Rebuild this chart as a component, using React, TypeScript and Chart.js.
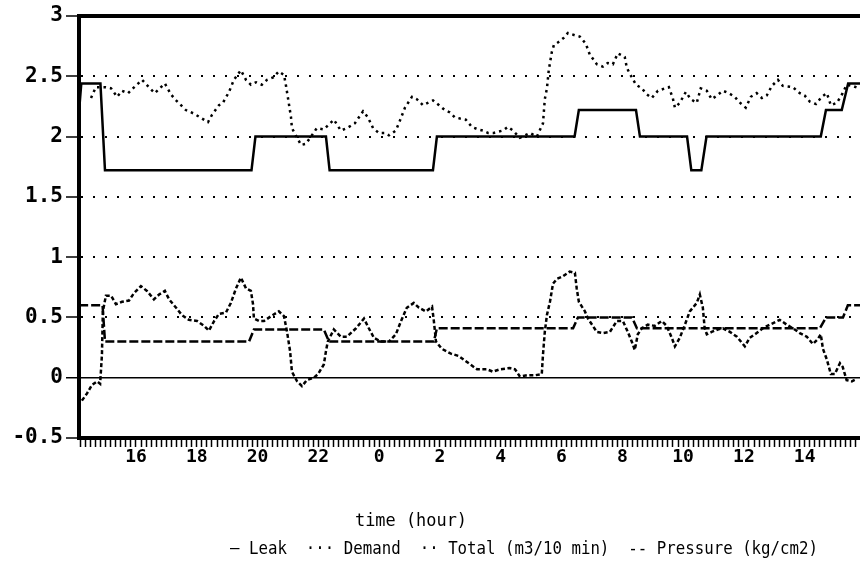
import React, { useEffect, useRef } from 'react';
import { Chart, registerables } from 'chart.js';

Chart.register(...registerables);

// ---- data (hours counted from midnight of day 1; 24 = 0h of next day) ----
const leakHours = [14.13, 14.2, 14.83, 14.98, 19.8, 19.93, 22.25, 22.37, 25.77, 25.9, 30.43, 30.57, 32.45, 32.58, 34.13, 34.27, 34.6, 34.77, 38.53, 38.7, 39.22, 39.43, 39.82];
const leakValues = [2.22, 2.44, 2.44, 1.72, 1.72, 2.0, 2.0, 1.72, 1.72, 2.0, 2.0, 2.22, 2.22, 2.0, 2.0, 1.72, 1.72, 2.0, 2.0, 2.22, 2.22, 2.44, 2.44];

const pressureHours = [14.13, 14.9, 14.98, 19.72, 19.88, 22.18, 22.35, 25.8, 25.9, 30.38, 30.54, 32.32, 32.48, 38.5, 38.7, 39.26, 39.42, 39.82];
const pressureValues = [0.6, 0.6, 0.3, 0.3, 0.4, 0.4, 0.3, 0.3, 0.41, 0.41, 0.5, 0.5, 0.41, 0.41, 0.5, 0.5, 0.6, 0.6];

const totalHours = [14.52, 14.68, 15.01, 15.18, 15.38, 15.54, 15.74, 15.9, 16.2, 16.46, 16.62, 16.95, 17.15, 17.32, 17.64, 17.91, 18.17, 18.37, 18.5, 18.73, 18.86, 19.06, 19.22, 19.45, 19.62, 19.78, 19.95, 20.14, 20.31, 20.51, 20.7, 20.87, 20.93, 21.0, 21.1, 21.13, 21.43, 21.59, 21.95, 22.18, 22.51, 22.74, 22.94, 23.2, 23.47, 23.63, 23.8, 23.99, 24.19, 24.32, 24.55, 24.68, 24.85, 25.08, 25.24, 25.44, 25.6, 25.77, 25.97, 26.16, 26.33, 26.49, 26.66, 26.85, 27.05, 27.25, 27.41, 27.58, 27.77, 28.07, 28.24, 28.4, 28.63, 28.96, 29.19, 29.39, 29.45, 29.52, 29.58, 29.68, 29.75, 29.88, 30.08, 30.21, 30.44, 30.6, 30.8, 30.93, 31.16, 31.36, 31.52, 31.69, 31.85, 32.08, 32.15, 32.25, 32.45, 32.64, 32.81, 32.97, 33.17, 33.53, 33.66, 33.73, 33.89, 34.09, 34.25, 34.45, 34.58, 34.78, 34.94, 35.11, 35.31, 35.5, 35.7, 35.83, 36.06, 36.23, 36.42, 36.59, 36.75, 36.92, 37.12, 37.28, 37.61, 37.84, 38.0, 38.17, 38.37, 38.56, 38.73, 38.86, 39.06, 39.25, 39.38, 39.58, 39.78];
const totalValues = [2.32, 2.41, 2.41, 2.4, 2.33, 2.38, 2.36, 2.4, 2.47, 2.4, 2.36, 2.44, 2.35, 2.3, 2.22, 2.19, 2.15, 2.12, 2.18, 2.26, 2.28, 2.37, 2.47, 2.55, 2.47, 2.43, 2.45, 2.43, 2.47, 2.49, 2.54, 2.51, 2.43, 2.32, 2.16, 2.07, 1.93, 1.94, 2.07, 2.06, 2.14, 2.05, 2.07, 2.11, 2.21, 2.16, 2.07, 2.03, 2.03, 2.01, 2.05, 2.13, 2.24, 2.33, 2.31, 2.26, 2.28, 2.3, 2.26, 2.22, 2.2, 2.16, 2.15, 2.14, 2.08, 2.06, 2.05, 2.03, 2.03, 2.05, 2.08, 2.05, 1.99, 2.03, 2.0, 2.11, 2.31, 2.4, 2.55, 2.7, 2.76, 2.78, 2.82, 2.86, 2.84, 2.83, 2.77, 2.68, 2.6, 2.58, 2.61, 2.6, 2.69, 2.66, 2.57, 2.52, 2.43, 2.4, 2.35, 2.32, 2.38, 2.41, 2.32, 2.24, 2.28, 2.37, 2.31, 2.28, 2.4, 2.38, 2.31, 2.34, 2.38, 2.36, 2.33, 2.29, 2.24, 2.33, 2.36, 2.32, 2.34, 2.42, 2.47, 2.42, 2.41, 2.36, 2.34, 2.29, 2.27, 2.33, 2.36, 2.26, 2.28, 2.36, 2.43, 2.42, 2.4];

const demandHours = [14.22, 14.39, 14.55, 14.72, 14.82, 14.88, 14.91, 15.01, 15.18, 15.34, 15.54, 15.77, 15.93, 16.16, 16.36, 16.59, 16.76, 16.95, 17.09, 17.32, 17.51, 17.74, 18.01, 18.24, 18.4, 18.57, 18.73, 18.96, 19.12, 19.29, 19.45, 19.62, 19.78, 19.85, 19.88, 20.05, 20.21, 20.44, 20.7, 20.87, 20.97, 21.07, 21.13, 21.3, 21.46, 21.62, 21.85, 21.99, 22.18, 22.25, 22.31, 22.51, 22.74, 22.94, 23.24, 23.5, 23.66, 23.83, 24.06, 24.32, 24.55, 24.72, 24.91, 25.14, 25.31, 25.54, 25.74, 25.8, 25.87, 26.06, 26.36, 26.62, 26.89, 27.22, 27.55, 27.74, 27.97, 28.3, 28.47, 28.63, 28.86, 29.12, 29.35, 29.39, 29.45, 29.52, 29.62, 29.72, 29.85, 30.04, 30.27, 30.44, 30.5, 30.57, 30.77, 30.87, 31.03, 31.16, 31.36, 31.59, 31.82, 32.02, 32.18, 32.31, 32.41, 32.51, 32.64, 32.84, 33.07, 33.3, 33.46, 33.63, 33.73, 33.89, 34.06, 34.22, 34.45, 34.55, 34.65, 34.71, 34.78, 34.94, 35.14, 35.31, 35.54, 35.77, 36.03, 36.19, 36.42, 36.62, 36.85, 37.18, 37.41, 37.61, 37.84, 38.07, 38.27, 38.43, 38.53, 38.6, 38.73, 38.86, 38.99, 39.16, 39.25, 39.38, 39.55, 39.72];
const demandValues = [-0.19, -0.13, -0.06, -0.03, -0.05, 0.19, 0.55, 0.68, 0.68, 0.61, 0.63, 0.64, 0.7, 0.76, 0.72, 0.65, 0.69, 0.72, 0.65, 0.58, 0.52, 0.48, 0.47, 0.43, 0.39, 0.47, 0.53, 0.54, 0.62, 0.74, 0.83, 0.74, 0.72, 0.61, 0.49, 0.47, 0.47, 0.51, 0.55, 0.51, 0.38, 0.22, 0.05, -0.03, -0.07, -0.02, 0.0, 0.03, 0.11, 0.22, 0.3, 0.4, 0.34, 0.34, 0.41, 0.49, 0.41, 0.33, 0.3, 0.3, 0.36, 0.47, 0.58, 0.62, 0.58, 0.55, 0.59, 0.47, 0.3, 0.24, 0.2, 0.18, 0.13, 0.07, 0.07, 0.05, 0.07, 0.08, 0.07, 0.01, 0.02, 0.02, 0.03, 0.19, 0.38, 0.52, 0.63, 0.78, 0.82, 0.84, 0.88, 0.87, 0.74, 0.63, 0.55, 0.49, 0.43, 0.38, 0.37, 0.38, 0.47, 0.47, 0.38, 0.3, 0.23, 0.36, 0.41, 0.44, 0.43, 0.47, 0.43, 0.33, 0.26, 0.33, 0.44, 0.55, 0.62, 0.69, 0.58, 0.41, 0.36, 0.38, 0.4, 0.41, 0.38, 0.34, 0.26, 0.33, 0.37, 0.41, 0.44, 0.48, 0.44, 0.41, 0.37, 0.34, 0.28, 0.32, 0.36, 0.24, 0.15, 0.03, 0.03, 0.12, 0.09, -0.02, -0.03, -0.01];

// ---- axes / text ----
const X_MIN = 14.125;
const X_MAX = 39.82;
const majorTickHours = [16, 18, 20, 22, 24, 26, 28, 30, 32, 34, 36, 38];
const majorTickLabels = ['16', '18', '20', '22', '0', '2', '4', '6', '8', '10', '12', '14'];
const yTickValues = [-0.5, 0, 0.5, 1, 1.5, 2, 2.5, 3];
const yTickLabels = ['-0.5', '0', '0.5', '1', '1.5', '2', '2.5', '3'];
const seriesNames = ['Leak', 'Demand', 'Total (m3/10 min)', 'Pressure (kg/cm2)'];
const legendSymbols = ['—', '···', '··', '--'];
const xTitle = 'time (hour)';

const MONO = '"DejaVu Sans Mono", "Liberation Mono", monospace';

const pts = (xs: number[], ys: number[]) => xs.map((x, i) => ({ x, y: ys[i] }));

const textPlugin = {
  id: 'textPlugin',
  afterDraw(chart: any) {
    const { ctx, chartArea } = chart;
    ctx.save();
    ctx.fillStyle = '#000';
    ctx.font = `18px ${MONO}`;
    ctx.textBaseline = 'middle';
    ctx.textAlign = 'center';
    ctx.fillText(xTitle, chartArea.left + 332, 521, 112);
    const legend = seriesNames.map((n, i) => `${legendSymbols[i]} ${n}`).join('  ');
    ctx.textAlign = 'left';
    ctx.fillText(legend, chartArea.left + 151, 549, 588);
    ctx.restore();
  },
};

export default function App() {
  const ref = useRef<HTMLCanvasElement>(null);

  useEffect(() => {
    if (!ref.current) return;
    const black = '#000';
    const chart = new Chart(ref.current, {
      type: 'line',
      data: {
        datasets: [
          { label: seriesNames[0], data: pts(leakHours, leakValues), borderColor: black, borderWidth: 2.5, pointRadius: 0, fill: false, tension: 0 },
          { label: seriesNames[1], data: pts(demandHours, demandValues), borderColor: black, borderWidth: 2.5, borderDash: [4, 2.5], pointRadius: 0, fill: false, tension: 0 },
          { label: seriesNames[2], data: pts(totalHours, totalValues), borderColor: black, borderWidth: 2.5, borderDash: [2.5, 4], pointRadius: 0, fill: false, tension: 0 },
          { label: seriesNames[3], data: pts(pressureHours, pressureValues), borderColor: black, borderWidth: 2.5, borderDash: [9, 3], pointRadius: 0, fill: false, tension: 0 },
        ],
      } as any,
      options: {
        animation: false,
        responsive: false,
        devicePixelRatio: 1,
        layout: { padding: { top: 16, right: 0, left: 0, bottom: 0 } },
        plugins: { legend: { display: false }, tooltip: { enabled: false }, title: { display: false } },
        scales: {
          x: {
            type: 'linear',
            min: X_MIN,
            max: X_MAX,
            afterBuildTicks: (scale: any) => {
              const ticks: any[] = [];
              for (let k = Math.ceil(X_MIN * 6); k <= Math.floor(X_MAX * 6); k++) ticks.push({ value: k / 6 });
              scale.ticks = ticks;
            },
            afterFit: (scale: any) => { scale.height = 126; },
            ticks: {
              autoSkip: false,
              maxRotation: 0,
              minRotation: 0,
              padding: 0,
              color: black,
              font: { family: MONO, size: 18, weight: 'bold' },
              callback: (v: any) => {
                const i = majorTickHours.findIndex((h) => Math.abs(h - Number(v)) < 1e-6);
                return i >= 0 ? majorTickLabels[i] : '';
              },
            },
            grid: { display: true, drawOnChartArea: false, drawTicks: true, tickLength: 9, tickWidth: 1.5, tickColor: black },
            border: { display: true, width: 4, color: black },
          },
          y: {
            min: -0.5,
            max: 3,
            afterBuildTicks: (scale: any) => { scale.ticks = yTickValues.map((v) => ({ value: v })); },
            afterFit: (scale: any) => { scale.width = 79; },
            ticks: {
              padding: 3,
              color: black,
              font: { family: MONO, size: 21, weight: 'bold' },
              callback: (v: any) => {
                const i = yTickValues.indexOf(Number(v));
                return i >= 0 ? yTickLabels[i] : '';
              },
            },
            grid: {
              color: (c: any) => (c.tick && c.tick.value === -0.5 ? 'rgba(0,0,0,0)' : black),
              lineWidth: (c: any) => (c.tick && c.tick.value === 3 ? 4 : c.tick && c.tick.value === 0 ? 1.5 : 2),
              tickLength: 13,
              tickWidth: 1.5,
              tickColor: black,
              tickBorderDash: [],
            },
            border: {
              display: true,
              width: 4,
              color: black,
              dash: (c: any) => (c.tick && (c.tick.value === 0 || c.tick.value === 3) ? [] : [2, 10]),
            },
          },
        },
      } as any,
      plugins: [textPlugin],
    });
    return () => chart.destroy();
  }, []);

  return (
    <div style={{ position: 'absolute', left: 0, top: 0, width: 860, height: 564, background: '#fff', overflow: 'hidden' }}>
      <canvas ref={ref} width={860} height={564} style={{ display: 'block', width: 860, height: 564 }} />
    </div>
  );
}
